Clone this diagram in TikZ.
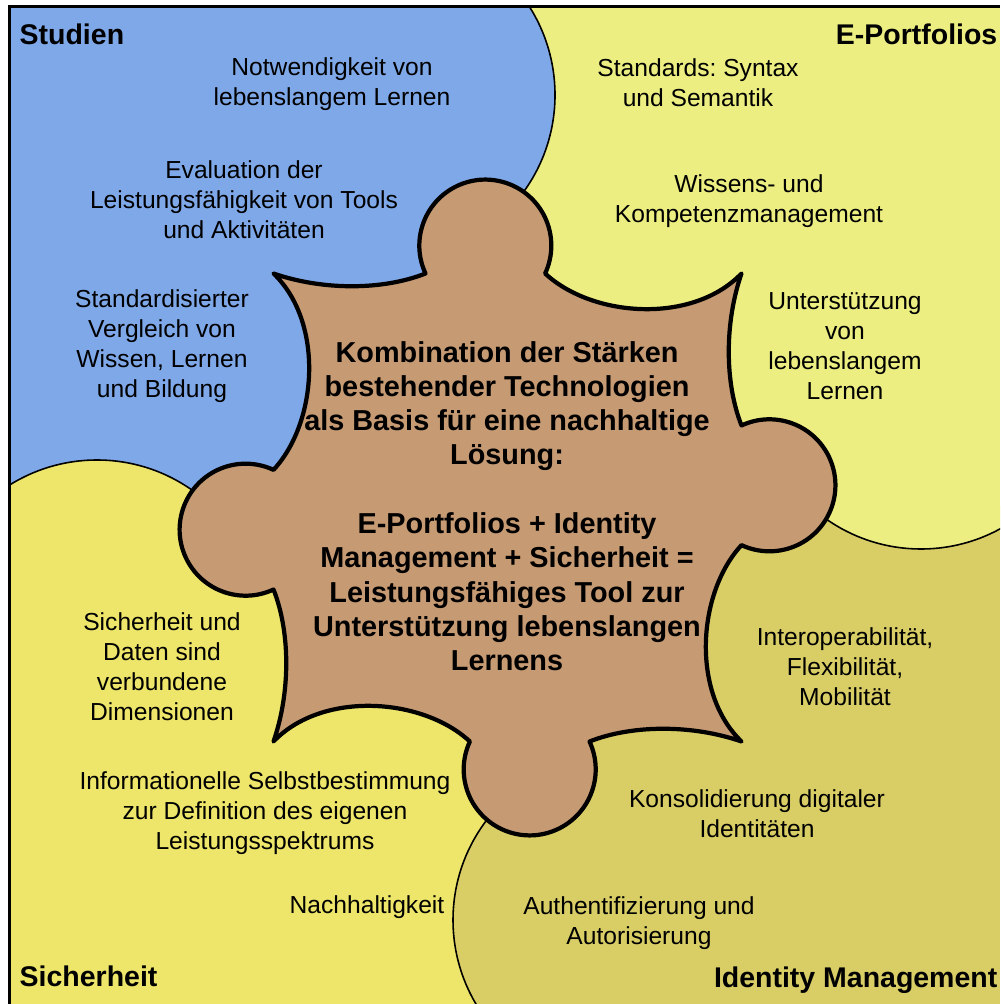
\documentclass[tikz,border=0pt]{standalone}
\usepackage{fontspec}
\setmainfont{Liberation Sans}
\usepackage{xcolor}
\usepackage{tikz}

\definecolor{studblue}{HTML}{7FA8E8}
\definecolor{portyellow}{HTML}{ECEE82}
\definecolor{secyellow}{HTML}{EEE66A}
\definecolor{idmyellow}{HTML}{D9CE66}
\definecolor{piecebrown}{HTML}{C69A72}

\begin{document}
\frenchspacing
\begin{tikzpicture}[x=0.01cm, y=0.01cm,
  knob/.style   = {draw=black, line width=0.45pt},
  piece/.style  = {draw=black, line width=1.2pt, fill=piecebrown, line join=round},
  ttl/.style    = {font=\fontsize{8.1}{9.7}\selectfont\bfseries, inner sep=0pt},
  lbl/.style    = {font=\fontsize{7}{8.5}\selectfont, align=center, inner sep=0pt},
  core/.style   = {font=\fontsize{8.2}{9.75}\selectfont\bfseries, align=center, inner sep=0pt},
  frame/.style  = {draw=black, line width=0.9pt},
]
\useasboundingbox (0,0) rectangle (1000,-1004);

%% ── Quadrants ────────────────────────────────────────────────────────────────
\fill[studblue]   (9,-6)   rectangle (507,-507);
\fill[portyellow] (507,-6) rectangle (1000,-507);
\fill[idmyellow]  (507,-507) rectangle (1000,-1004);
\fill[secyellow]  (9,-507) rectangle (507,-1004);

%% ── Knobs reaching into the next quadrant ───────────────────────────────────
\begin{scope}
  \clip (507,-6) rectangle (1000,-507);
  \filldraw[knob, fill=studblue] (390,-95) circle (165);
\end{scope}
\begin{scope}
  \clip (507,-507) rectangle (1000,-1004);
  \filldraw[knob, fill=portyellow] (921,-384) circle (165);
\end{scope}
\begin{scope}
  \clip (9,-507) rectangle (507,-1004);
  \filldraw[knob, fill=idmyellow] (618,-920) circle (165);
\end{scope}
\begin{scope}
  \clip (9,-6) rectangle (507,-507);
  \filldraw[knob, fill=secyellow] (97,-625) circle (165);
\end{scope}

%% ── Centre piece ─────────────────────────────────────────────────────────────
\begin{scope}[shift={(507.5,-507.5)}]
  \draw[piece] (-234,234)
    .. controls (-185,217) and (-125,217) .. (-82,234)
    arc[start angle=205, end angle=-25, radius=66]
    .. controls (85,190) and (185,183) .. (234,234)
    .. controls (217,185) and (217,125) .. (234,82)
    arc[start angle=115, end angle=-115, radius=66]
    .. controls (190,-85) and (183,-185) .. (234,-234)
    .. controls (185,-217) and (125,-217) .. (82,-234)
    arc[start angle=25, end angle=-205, radius=66]
    .. controls (-85,-190) and (-185,-183) .. (-234,-234)
    .. controls (-217,-185) and (-217,-125) .. (-234,-82)
    arc[start angle=-65, end angle=-295, radius=66]
    .. controls (-190,85) and (-183,185) .. (-234,234) -- cycle;
\end{scope}

\node[core] (core) at (507,-506)
  {Kombination der Stärken\\bestehender Technologien\\als Basis für eine nachhaltige\\Lösung:\\[9.75pt]
   E-Portfolios + Identity\\Management + Sicherheit =\\Leistungsfähiges Tool zur\\Unterstützung lebenslangen\\Lernens};

%% ── Titles ───────────────────────────────────────────────────────────────────
\node[ttl, anchor=base west] (tStud) at (19,-45)  {Studien};
\node[ttl, anchor=base east] (tPort) at (998,-45) {E-Portfolios};
\node[ttl, anchor=base west] (tSec)  at (19,-986) {Sicherheit};
\node[ttl, anchor=base east] (tIdm)  at (998,-987) {Identity Management};

%% ── Studien ──────────────────────────────────────────────────────────────────
\node[lbl] (sNot) at (332,-84)  {Notwendigkeit von\\lebenslangem Lernen};
\node[lbl] (sEva) at (244,-200) {Evaluation der\\Leistungsfähigkeit von Tools\\und Aktivitäten};
\node[lbl] (sStd) at (162,-346) {Standardisierter\\Vergleich von\\Wissen, Lernen\\und Bildung};

%% ── E-Portfolios ─────────────────────────────────────────────────────────────
\node[lbl] (pSyn) at (698,-83)  {Standards: Syntax\\und Semantik};
\node[lbl] (pKom) at (749,-201) {Wissens- und\\Kompetenzmanagement};
\node[lbl] (pUnt) at (845,-346) {Unterstützung\\von\\lebenslangem\\Lernen};

%% ── Sicherheit ───────────────────────────────────────────────────────────────
\node[lbl] (cDat) at (162,-667) {Sicherheit und\\Daten sind\\verbundene\\Dimensionen};
\node[lbl] (cInf) at (265,-813) {Informationelle Selbstbestimmung\\zur Definition des eigenen\\Leistungsspektrums};
\node[lbl] (cNac) at (367,-907) {Nachhaltigkeit};

%% ── Identity Management ─────────────────────────────────────────────────────
\node[lbl] (iInt) at (845,-667) {Interoperabilität,\\Flexibilität,\\Mobilität};
\node[lbl] (iKon) at (757,-814) {Konsolidierung digitaler\\Identitäten};
\node[lbl] (iAut) at (639,-923) {Authentifizierung und\\Autorisierung};

%% ── Frame (top and left only) ───────────────────────────────────────────────
\draw[frame] (8,-6.5) -- (1000,-6.5);
\draw[frame] (9.5,-5) -- (9.5,-1004);

\end{tikzpicture}
\end{document}
